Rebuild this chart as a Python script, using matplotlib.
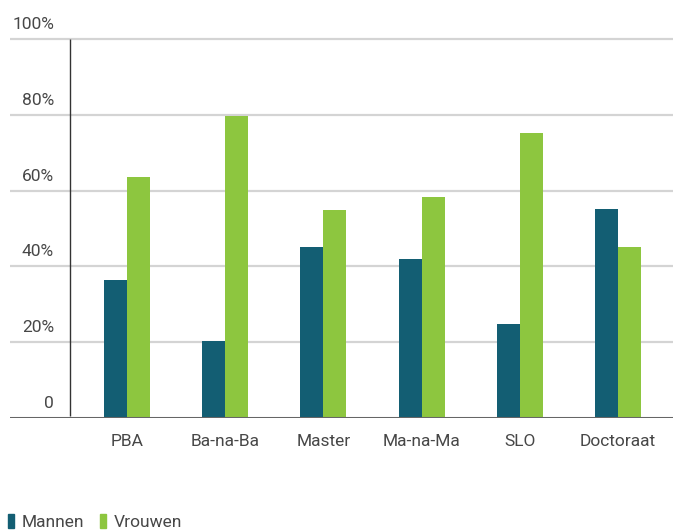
import matplotlib
matplotlib.use("Agg")
import matplotlib.pyplot as plt
import numpy as np
from matplotlib.patches import Rectangle
from matplotlib.transforms import offset_copy, blended_transform_factory

categories = ["PBA", "Ba-na-Ba", "Master", "Ma-na-Ma", "SLO", "Doctoraat"]
mannen = [36.4, 20.3, 45.2, 41.8, 24.8, 55.0]
vrouwen = [63.6, 79.7, 54.8, 58.2, 75.2, 45.0]
yticks = [0, 20, 40, 60, 80, 100]
ytick_labels = ["0", "20%", "40%", "60%", "80%", "100%"]
series_names = ["Mannen", "Vrouwen"]

c_m = "#135e73"
c_v = "#8dc63f"
text_c = "#474747"

plt.rcParams["font.family"] = ["Roboto", "DejaVu Sans"]

W, H = 673, 530
fig = plt.figure(figsize=(W / 100, H / 100), dpi=100)
ax = fig.add_axes([10 / W, (H - 417.5) / H, (673 - 10) / W, (417.5 - 35.5) / H])

x = np.arange(len(categories))
bw = 0.234
ax.bar(x - bw / 2, mannen, width=bw, color=c_m, zorder=3)
ax.bar(x + bw / 2, vrouwen, width=bw, color=c_v, zorder=3)

ax.set_xlim(-1.191, 5.56)
ax.set_ylim(0, 101)

for y in yticks[1:]:
    ax.axhline(y, color="#d4d4d4", lw=1.6, zorder=1)
ax.axhline(0, color="#666666", lw=2.2, zorder=4)

for s in ["top", "right", "bottom"]:
    ax.spines[s].set_visible(False)
ax.spines["left"].set_position(("data", -0.580))
ax.spines["left"].set_bounds(0.5, 100)
ax.spines["left"].set_color("#333333")
ax.spines["left"].set_linewidth(1.0)
ax.spines["left"].set_capstyle("butt")

ax.set_yticks([])
ax.set_xticks(x)
ax.set_xticklabels(categories, fontsize=12.5, color=text_c)
ax.tick_params(axis="x", length=0, pad=12)

trans = blended_transform_factory(fig.transFigure, ax.transData)
trans = offset_copy(trans, fig=fig, x=0, y=7, units="dots")
for y, lab in zip(yticks, ytick_labels):
    ax.text(54 / W, y, lab, transform=trans, ha="right", va="bottom",
            fontsize=12.5, color=text_c)

handles = [Rectangle((0, 0), 1, 1, color=c_m), Rectangle((0, 0), 1, 1, color=c_v)]
fig.legend(handles, series_names, loc="lower left",
           bbox_to_anchor=(8 / W, 0 / H), frameon=False, ncol=2,
           handlelength=0.35, handleheight=0.9, handletextpad=0.45,
           columnspacing=0.9, borderpad=0, borderaxespad=0,
           prop={"size": 12.5}, labelcolor=text_c)

fig.savefig("out.png", dpi=100)
